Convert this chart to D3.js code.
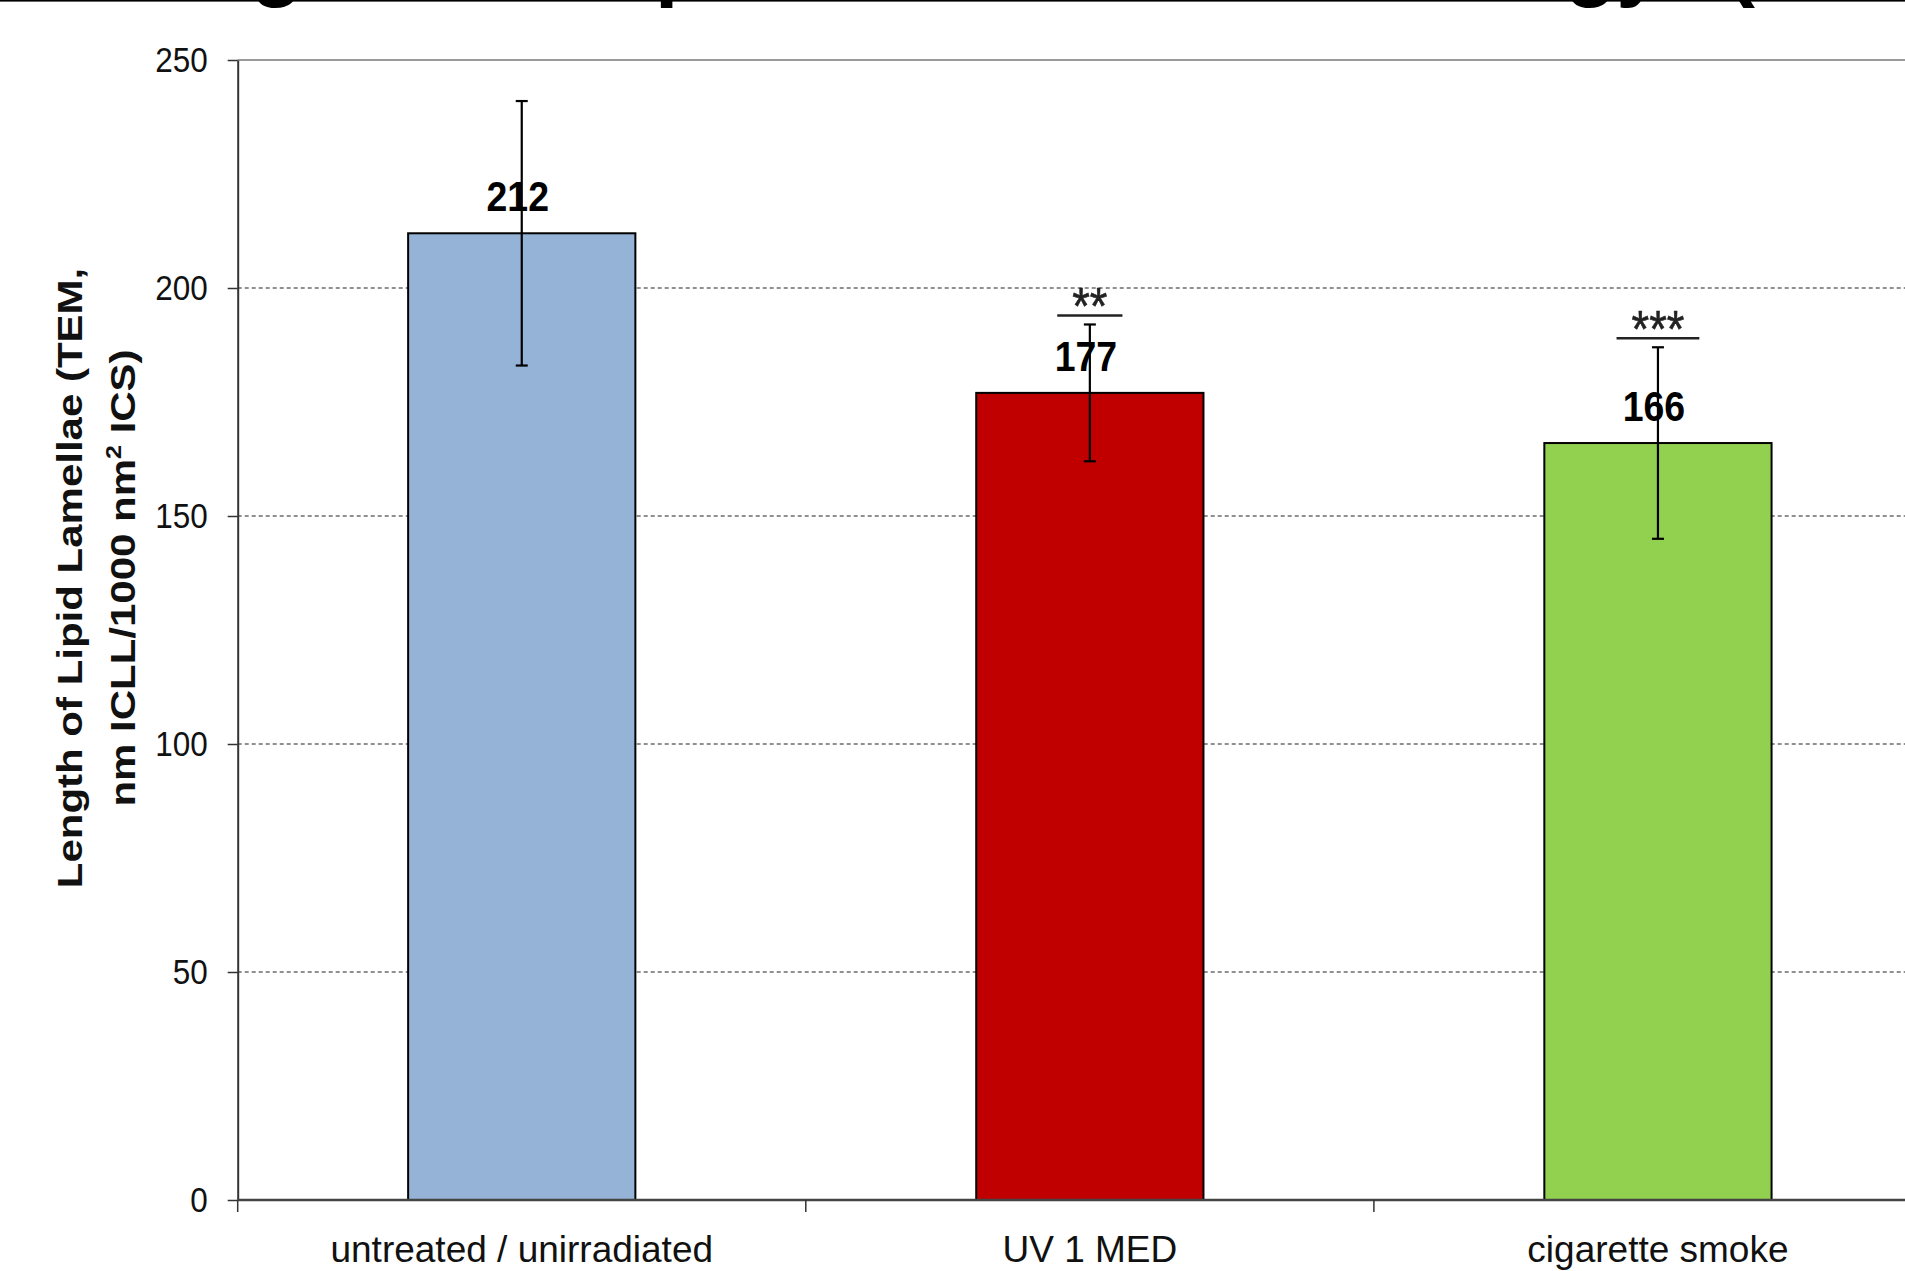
<!DOCTYPE html>
<html>
<head>
<meta charset="utf-8">
<script src="https://cdn.jsdelivr.net/npm/d3@7/dist/d3.min.js"></script>
<style>
  html, body { margin: 0; padding: 0; background: #ffffff; overflow: hidden; }
  svg { display: block; font-family: "Liberation Sans", Arial, Helvetica, sans-serif; }
</style>
</head>
<body>
<svg id="chart" width="1905" height="1271"></svg>
<script>
// Intercellular lipid lamellae length per treatment group (mean ± error)
const categories = ["untreated / unirradiated", "UV 1 MED", "cigarette smoke"];
const means      = [212, 177, 166];
const errors     = [29, 15, 21];
const stars      = ["", "**", "***"];
const barColors  = ["#95b3d7", "#c00000", "#92d050"];
const yTicks     = [0, 50, 100, 150, 200, 250];
const yTitle     = ["Length of Lipid Lamellae (TEM,", "nm ICLL/1000 nm", "2", " ICS)"];

const svg = d3.select("#chart");
const W = 1905, H = 1271;
const plot = { left: 237.7, top: 60, bottom: 1200, right: 1942 };
const FONT = '"Liberation Sans", Arial, Helvetica, sans-serif';

const y = d3.scaleLinear().domain([0, 250]).range([plot.bottom, plot.top]);
const xCat = d3.scaleBand().domain(categories).range([plot.left, plot.right]).padding(0);
const xBar = d3.scaleBand().domain(categories).range([plot.left, plot.right])
  .paddingInner(0.6).paddingOuter(0.3);
const cx = c => xBar(c) + xBar.bandwidth() / 2;

// heading line running off the top edge of the page
svg.append("rect").attr("x", 0).attr("y", 0).attr("width", W).attr("height", 1.6).attr("fill", "#000");
const heading = svg.append("g").attr("font-family", FONT).attr("font-weight", "bold")
  .attr("font-size", 84).attr("fill", "#000");
[["g", 251], ["p", 655], ["gy", 1565], ["(", 1727]].forEach(([t, gx]) => {
  heading.append("text").attr("x", gx).attr("y", -9).text(t);
});

// horizontal gridlines (dashed) and top plot border
const grid = svg.append("g");
grid.selectAll("line.grid")
  .data(yTicks.filter(v => v > 0 && v < 250))
  .join("line")
  .attr("x1", plot.left).attr("x2", W)
  .attr("y1", d => y(d)).attr("y2", d => y(d))
  .attr("stroke", "#222").attr("stroke-width", 1.2)
  .attr("stroke-dasharray", "4,3");
grid.append("line")
  .attr("x1", plot.left).attr("x2", W)
  .attr("y1", y(250)).attr("y2", y(250))
  .attr("stroke", "#9a9a9a").attr("stroke-width", 2);

// bars
svg.append("g").selectAll("rect")
  .data(categories)
  .join("rect")
  .attr("x", c => xBar(c))
  .attr("y", (c, i) => y(means[i]))
  .attr("width", xBar.bandwidth())
  .attr("height", (c, i) => y(0) - y(means[i]))
  .attr("fill", (c, i) => barColors[i])
  .attr("stroke", "#000").attr("stroke-width", 2);

// value labels above bars
const SX = 0.87;
svg.append("g").selectAll("text")
  .data(categories)
  .join("text")
  .attr("transform", (c, i) => `translate(${cx(c) - 4},${y(means[i]) - 22}) scale(${SX},1)`)
  .attr("text-anchor", "middle")
  .attr("font-family", FONT).attr("font-weight", "bold").attr("font-size", 43)
  .attr("fill", "#000")
  .text((c, i) => means[i]);

// error bars
const eb = svg.append("g").attr("stroke", "#000").attr("stroke-width", 2.2);
categories.forEach((c, i) => {
  const x0 = cx(c), hi = y(means[i] + errors[i]), lo = y(means[i] - errors[i]);
  eb.append("line").attr("x1", x0).attr("x2", x0).attr("y1", hi).attr("y2", lo);
  eb.append("line").attr("x1", x0 - 6).attr("x2", x0 + 6).attr("y1", hi).attr("y2", hi);
  eb.append("line").attr("x1", x0 - 6).attr("x2", x0 + 6).attr("y1", lo).attr("y2", lo);
});

// significance markers
const sig = svg.append("g");
categories.forEach((c, i) => {
  if (!stars[i]) return;
  const x0 = cx(c), ly = y(means[i] + errors[i]) - 9;
  const t = sig.append("text")
    .attr("transform", `translate(${x0},${ly + 9}) scale(${SX},1)`)
    .attr("text-anchor", "middle")
    .attr("font-family", FONT).attr("font-size", 52)
    .attr("stroke", "#222").attr("stroke-width", 0.6)
    .attr("fill", "#222").text(stars[i]);
  const w = t.node().getComputedTextLength() * SX;
  sig.append("line")
    .attr("x1", x0 - (w + 30) / 2).attr("x2", x0 + (w + 30) / 2)
    .attr("y1", ly).attr("y2", ly)
    .attr("stroke", "#222").attr("stroke-width", 2.6);
});

// y axis
const yAxis = svg.append("g").attr("transform", `translate(${plot.left},0)`)
  .call(d3.axisLeft(y).tickValues(yTicks).tickSize(10).tickPadding(20).tickSizeOuter(0));
yAxis.select(".domain").attr("stroke", "#333").attr("stroke-width", 2);
yAxis.selectAll(".tick line").attr("stroke", "#333").attr("stroke-width", 1.5);
const TSX = 0.9;
yAxis.selectAll(".tick text")
  .attr("font-family", FONT).attr("font-size", 35).attr("fill", "#111")
  .attr("x", -30 / TSX).attr("transform", `scale(${TSX},1)`);

// x axis
const xAxis = svg.append("g").attr("transform", `translate(0,${plot.bottom})`);
xAxis.append("line").attr("x1", plot.left).attr("x2", W)
  .attr("y1", 0).attr("y2", 0).attr("stroke", "#444").attr("stroke-width", 2.4);
xAxis.selectAll("line.tk")
  .data(categories.map(c => xCat(c)).concat([plot.right]))
  .join("line").attr("class", "tk")
  .attr("x1", d => d).attr("x2", d => d)
  .attr("y1", 0).attr("y2", 12)
  .attr("stroke", "#333").attr("stroke-width", 1.5);
xAxis.selectAll("text")
  .data(categories)
  .join("text")
  .attr("x", c => xCat(c) + xCat.bandwidth() / 2)
  .attr("y", 62)
  .attr("text-anchor", "middle")
  .attr("font-family", FONT).attr("font-size", 37).attr("fill", "#111")
  .text(c => c);

// y axis title, two lines
const title = svg.append("g")
  .attr("transform", `translate(0,578)`)
  .attr("font-family", FONT).attr("font-weight", "bold").attr("font-size", 42).attr("fill", "#111");
title.append("text")
  .attr("transform", `translate(82,0) scale(0.85,1) rotate(-90)`)
  .attr("text-anchor", "middle").text(yTitle[0]);
const t2 = title.append("text")
  .attr("transform", `translate(135,0) scale(0.85,1) rotate(-90)`)
  .attr("text-anchor", "middle");
t2.append("tspan").text(yTitle[1]);
t2.append("tspan").attr("font-size", 25).attr("dy", -16).text(yTitle[2]);
t2.append("tspan").attr("dy", 16).text(yTitle[3]);
</script>
</body>
</html>
